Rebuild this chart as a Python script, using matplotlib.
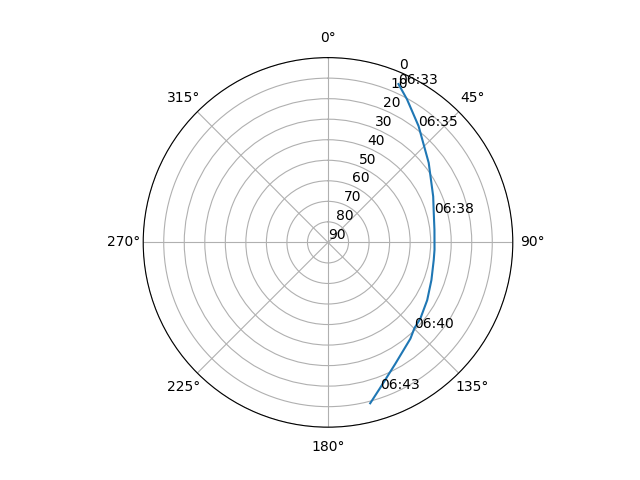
import numpy as np
import matplotlib
matplotlib.use("Agg")
from matplotlib import pyplot as plt

# satellite pass track (azimuth deg, elevation deg)
az = [24.0, 28.9, 37.9, 51.7, 66.4, 74.3, 83.3, 94.0, 99.4, 110.0, 120.2, 129.5, 134.8, 139.4, 151.0, 160.5, 165.3]
el = [5.6, 10.4, 18.2, 27.5, 34.1, 36.5, 37.8, 38.0, 37.8, 36.4, 34.1, 31.7, 30.7, 28.3, 22.4, 14.5, 9.0]

# time labels along the pass
label_times = ["06:33", "06:35", "06:38", "06:40", "06:43"]
label_az = [24.0, 37.9, 74.3, 134.8, 160.5]
label_el = [5.6, 18.2, 36.5, 30.7, 14.5]

fig = plt.figure(figsize=(6.4, 4.8), dpi=100)
ax = fig.add_subplot(111, projection="polar")
ax.set_theta_zero_location("N")
ax.set_theta_direction(-1)

ax.plot(np.radians(az), el)
for t, a, e in zip(label_times, label_az, label_el):
    ax.text(np.radians(a), e, t)

ax.set_rlim(90, 0)
ax.set_yticks(range(0, 91, 10))

fig.savefig("out.png")
